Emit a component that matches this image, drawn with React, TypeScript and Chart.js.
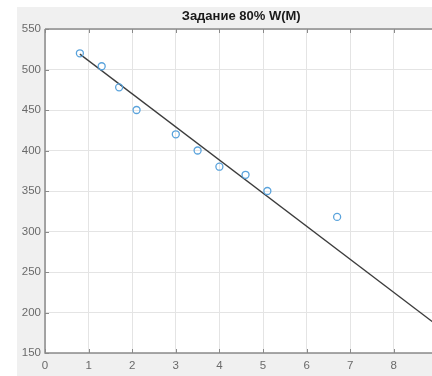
import React, { useEffect, useRef } from "react";
import { Chart, registerables } from "chart.js";

Chart.register(...registerables);

const titleText = "Задание 80% W(M)";
const xValues = [0.8, 1.3, 1.7, 2.1, 3.0, 3.5, 4.0, 4.6, 5.1, 6.7];
const yValues = [520, 504, 478, 450, 420, 400, 380, 370, 350, 318];
const fitX = [0.8, 9];
const fitY = [519, 184];
const xTicks = [0, 1, 2, 3, 4, 5, 6, 7, 8, 9];
const yTicks = [150, 200, 250, 300, 350, 400, 450, 500, 550];

const W = 450;
const H = 376;

const bgPlugin = {
  id: "figbg",
  beforeDraw(chart: any) {
    const { ctx, chartArea } = chart;
    ctx.save();
    ctx.fillStyle = "#ffffff";
    ctx.fillRect(0, 0, chart.width, chart.height);
    ctx.fillStyle = "#f0f0f0";
    ctx.fillRect(17, 7, chart.width - 17, chart.height - 7);
    ctx.fillStyle = "#ffffff";
    ctx.fillRect(chartArea.left, chartArea.top, chartArea.right - chartArea.left, chartArea.bottom - chartArea.top);
    ctx.restore();
  },
  afterDatasetsDraw(chart: any) {
    const { ctx, chartArea, scales } = chart;
    ctx.save();
    ctx.strokeStyle = "#8a8a8a";
    ctx.lineWidth = 1.5;
    ctx.beginPath();
    ctx.moveTo(chartArea.left, chartArea.top);
    ctx.lineTo(chartArea.right, chartArea.top);
    ctx.moveTo(chartArea.left, chartArea.top);
    ctx.lineTo(chartArea.left, chartArea.bottom);
    ctx.lineTo(chartArea.right, chartArea.bottom);
    ctx.stroke();
    ctx.lineWidth = 1;
    ctx.beginPath();
    xTicks.forEach((t) => {
      const px = Math.round(scales.x.getPixelForValue(t)) + 0.5;
      ctx.moveTo(px, chartArea.bottom);
      ctx.lineTo(px, chartArea.bottom - 4);
      ctx.moveTo(px, chartArea.top);
      ctx.lineTo(px, chartArea.top + 4);
    });
    yTicks.forEach((t) => {
      const py = Math.round(scales.y.getPixelForValue(t)) + 0.5;
      ctx.moveTo(chartArea.left, py);
      ctx.lineTo(chartArea.left + 4, py);
    });
    ctx.stroke();
    ctx.restore();
  },
};

export default function App() {
  const ref = useRef<HTMLCanvasElement | null>(null);
  useEffect(() => {
    document.documentElement.style.overflow = "hidden";
    document.body.style.overflow = "hidden";
    const canvas = ref.current;
    if (!canvas) return;
    const chart = new Chart(canvas, {
      type: "scatter",
      data: {
        datasets: [
          {
            type: "line",
            label: "fit",
            data: fitX.map((x, i) => ({ x, y: fitY[i] })),
            borderColor: "#3c3c3c",
            borderWidth: 1.3,
            pointRadius: 0,
            fill: false,
            order: 2,
          } as any,
          {
            label: "data",
            data: xValues.map((x, i) => ({ x, y: yValues[i] })),
            borderColor: "#5aa3dc",
            backgroundColor: "rgba(0,0,0,0)",
            borderWidth: 1.3,
            pointRadius: 3.5,
            pointStyle: "circle",
            order: 1,
          },
        ],
      },
      options: {
        responsive: false,
        animation: false,
        devicePixelRatio: 1,
        layout: { padding: { left: 0, top: 0, right: W - 437.4, bottom: 0 } },
        plugins: {
          legend: { display: false },
          tooltip: { enabled: false },
          title: {
            display: true,
            text: titleText,
            fullSize: false,
            color: "#1a1a1a",
            font: { family: "'Liberation Sans', Arial, sans-serif", size: 13, weight: "bold", lineHeight: 1.2 },
            padding: { top: 8.5, bottom: 4.9 },
          },
        },
        scales: {
          x: {
            type: "linear",
            min: 0,
            max: 9,
            afterFit(scale: any) {
              scale.height = 23;
            },
            afterBuildTicks(scale: any) {
              scale.ticks = xTicks.map((v) => ({ value: v }));
            },
            ticks: {
              color: "#6a6a6a",
              padding: 6,
              maxRotation: 0,
              font: { family: "'Liberation Sans', Arial, sans-serif", size: 11.5 },
            },
            grid: { color: "#e4e4e4", drawTicks: false },
            border: { display: false },
          },
          y: {
            type: "linear",
            min: 150,
            max: 550,
            afterFit(scale: any) {
              scale.width = 45;
            },
            afterBuildTicks(scale: any) {
              scale.ticks = yTicks.map((v) => ({ value: v }));
            },
            ticks: {
              color: "#6a6a6a",
              padding: 4,
              font: { family: "'Liberation Sans', Arial, sans-serif", size: 11.5 },
            },
            grid: { color: "#e4e4e4", drawTicks: false },
            border: { display: false },
          },
        },
      },
      plugins: [bgPlugin],
    });
    return () => chart.destroy();
  }, []);
  return (
    <div style={{ position: "fixed", left: 0, top: 0, width: 432, height: 376, overflow: "hidden" }}>
      <canvas ref={ref} width={W} height={H} style={{ width: W, height: H, display: "block" }} />
    </div>
  );
}
